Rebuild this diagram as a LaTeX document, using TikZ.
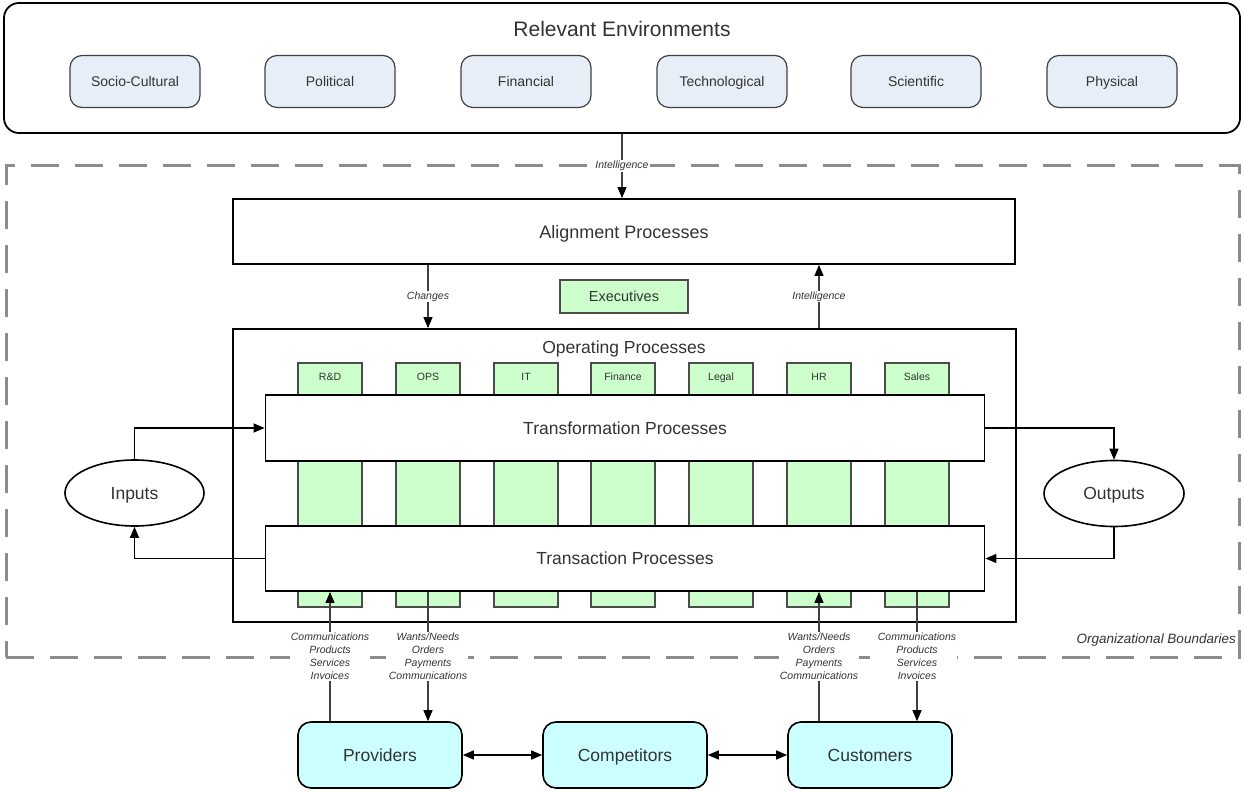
\documentclass[tikz,border=0pt]{standalone}
\usepackage{fontspec}
\setmainfont{Liberation Sans}
\usetikzlibrary{arrows.meta,shapes.geometric}
\definecolor{envfill}{HTML}{E8EEF8}
\definecolor{deptfill}{HTML}{CCFFCC}
\definecolor{extfill}{HTML}{CCFFFF}
\definecolor{txt}{HTML}{333333}
\definecolor{bound}{HTML}{8C8C8C}
\begin{document}
\begin{tikzpicture}[x=1pt,y=-1pt,
 every node/.style={text=txt, inner sep=0pt},
 even/.style={text depth=0pt},
 bigbox/.style={draw=black, line width=1.8pt, fill=white, rectangle, even},
 envbox/.style={draw=black!75, line width=1.2pt, fill=envfill, rounded corners=12pt, minimum width=130pt, minimum height=52pt, font=\fontsize{14}{16}\selectfont, even},
 deptbox/.style={draw=black!70, line width=1.2pt, fill=deptfill, minimum width=64pt, minimum height=244pt},
 deptlbl/.style={font=\fontsize{10.5}{12}\selectfont, even},
 extbox/.style={draw=black, line width=1.6pt, fill=extfill, rounded corners=13pt, minimum width=164pt, minimum height=66pt, font=\fontsize{17.5}{20}\selectfont, even},
 oval/.style={draw=black, line width=1.6pt, ellipse, fill=white, minimum width=139pt, minimum height=66pt, font=\fontsize{17.5}{20}\selectfont, even},
 flowlbl/.style={font=\itshape\fontsize{10.5}{13}\selectfont, fill=white, align=center, inner sep=1pt},
 arr/.style={-{Triangle[length=11pt,width=9pt]}, line width=1.4pt},
 darr/.style={{Triangle[length=11pt,width=9pt]}-{Triangle[length=11pt,width=9pt]}, line width=1.4pt},
 garr/.style={-{Triangle[length=11pt,width=9pt,color=black]}, line width=1.1pt, draw=black!75},
]
\useasboundingbox (0,0) rectangle (1244,791);

% organizational boundary
\node[draw=bound, line width=3pt, dash pattern=on 28pt off 16pt, minimum width=1233pt, minimum height=491pt] (org) at (622.5,411.5) {};
\node[anchor=east, font=\itshape\fontsize{13.5}{16}\selectfont] (orglbl) at (1236,640) {Organizational Boundaries};

% relevant environments
\node[draw=black, line width=1.8pt, fill=white, rounded corners=15pt, minimum width=1236pt, minimum height=130pt] (env) at (622,68) {};
\node[font=\fontsize{21}{24}\selectfont, even] (envtitle) at (622,29) {Relevant Environments};
\node[envbox] (socio) at (135,81.5) {Socio-Cultural};
\node[envbox] (polit) at (330,81.5) {Political};
\node[envbox] (finan) at (526,81.5) {Financial};
\node[envbox] (techn) at (722,81.5) {Technological};
\node[envbox] (scien) at (916,81.5) {Scientific};
\node[envbox] (physi) at (1112,81.5) {Physical};

% alignment
\node[bigbox, minimum width=782pt, minimum height=65pt, font=\fontsize{18}{20}\selectfont] (align) at (624,231.5) {Alignment Processes};
\node[draw=black!70, line width=1.2pt, fill=deptfill, minimum width=128pt, minimum height=33pt, font=\fontsize{14.5}{16}\selectfont, even] (exec) at (624,296.5) {Executives};

% operating
\node[bigbox, minimum width=783pt, minimum height=293pt] (ops) at (624.5,475.5) {};
\node[font=\fontsize{17.5}{20}\selectfont, even] (opstitle) at (624,347) {Operating Processes};

\foreach \n/\x/\t in {rnd/330/R\&D, opsd/428/OPS, itd/526/IT, find/623/Finance, legd/721/Legal, hrd/819/HR, sald/917/Sales}{
  \node[deptbox] (\n) at (\x,485) {};
  \node[deptlbl] (\n lbl) at (\x,377) {\t};
}

\node[bigbox, minimum width=719pt, minimum height=66pt, font=\fontsize{17.5}{20}\selectfont] (trans) at (625,428) {Transformation Processes};
\node[bigbox, minimum width=719pt, minimum height=65pt, font=\fontsize{17.5}{20}\selectfont] (tran) at (625,558.5) {Transaction Processes};

\node[oval] (inputs) at (134.5,493) {Inputs};
\node[oval, minimum width=140pt] (outputs) at (1114,493.5) {Outputs};

% external
\node[extbox] (prov) at (380,755) {Providers};
\node[extbox] (comp) at (625,755) {Competitors};
\node[extbox] (cust) at (870,755) {Customers};

% connectors
\draw[garr] (env.south) -- node[flowlbl]{Intelligence} (env.south |- align.north);
\draw[garr] (align.south -| opsd) -- node[flowlbl]{Changes} (ops.north -| opsd);
\draw[garr] (ops.north -| hrd) -- node[flowlbl]{Intelligence} (align.south -| hrd);

\draw[arr] (inputs.north) |- (trans.west);
\draw[arr] (tran.west) -| (inputs.south);
\draw[arr] (trans.east) -| (outputs.north);
\draw[arr] (outputs.south) |- (tran.east);

\draw[garr] (prov.north -| rnd) -- node[flowlbl]{Communications\\Products\\Services\\Invoices} (tran.south -| rnd);
\draw[garr] (tran.south -| opsd) -- node[flowlbl]{Wants/Needs\\Orders\\Payments\\Communications} (prov.north -| opsd);
\draw[garr] (cust.north -| hrd) -- node[flowlbl]{Wants/Needs\\Orders\\Payments\\Communications} (tran.south -| hrd);
\draw[garr] (tran.south -| sald) -- node[flowlbl]{Communications\\Products\\Services\\Invoices} (cust.north -| sald);

\draw[darr] (prov.east) -- (comp.west);
\draw[darr] (comp.east) -- (cust.west);
\end{tikzpicture}
\end{document}
